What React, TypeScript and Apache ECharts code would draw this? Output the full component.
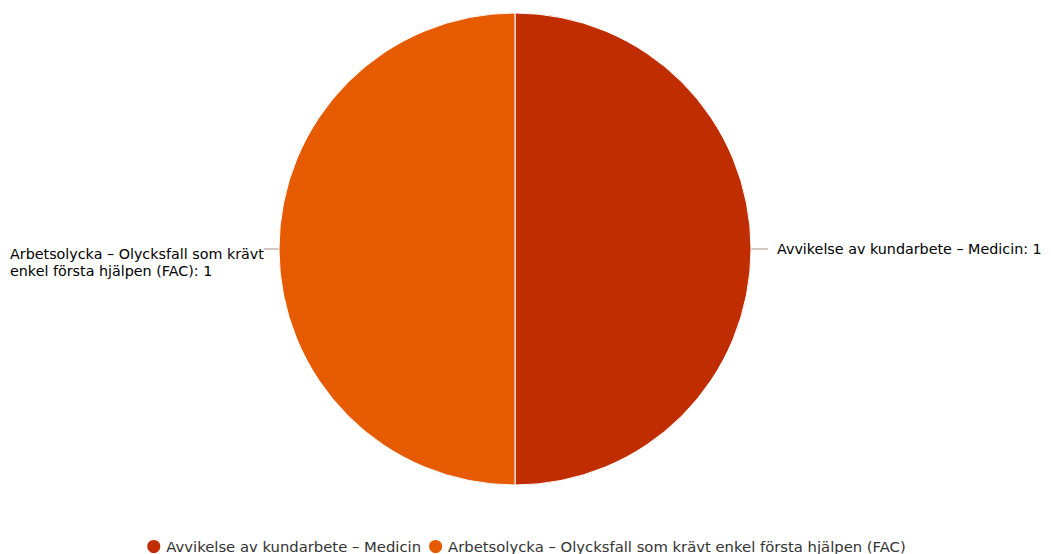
import React, { useEffect, useRef } from "react";
import * as echarts from "echarts";

const categories = [
  "Avvikelse av kundarbete – Medicin",
  "Arbetsolycka – Olycksfall som krävt enkel första hjälpen (FAC)",
];
const values = [1, 1];
const colors = ["#c02d00", "#e65a00"];

// wrap a label into lines of at most maxChars characters at word boundaries
function wrap(text: string, maxChars: number): string[] {
  const words = text.split(" ");
  const lines: string[] = [];
  let cur = "";
  for (const w of words) {
    const next = cur ? cur + " " + w : w;
    if (next.length > maxChars && cur) {
      lines.push(cur);
      cur = w;
    } else cur = next;
  }
  if (cur) lines.push(cur);
  return lines;
}

export default function App() {
  const ref = useRef<HTMLDivElement>(null);
  useEffect(() => {
    const chart = echarts.init(ref.current!, null, { renderer: "svg" });
    const font = "'Lucida Grande', 'DejaVu Sans', sans-serif";
    chart.setOption({
      animation: false,
      backgroundColor: "#ffffff",
      legend: {
        top: 533,
        left: "center",
        icon: "circle",
        itemWidth: 15,
        itemHeight: 15,
        itemGap: 6,
        textStyle: { color: "#333333", fontSize: 14.8, fontFamily: font },
        data: categories,
      },
      series: [
        {
          type: "pie",
          center: [515, 249],
          radius: 236,
          startAngle: 90,
          clockwise: true,
          itemStyle: { borderColor: "#ffffff", borderWidth: 1 },
          label: {
            color: "#000000",
            fontSize: 14.3,
            fontFamily: font,
            lineHeight: 17,
            overflow: "none",
            distanceToLabelLine: 9,
          },
          labelLine: { length: 17, length2: 0, lineStyle: { color: "#a89088", width: 1 } },
          emphasis: { disabled: true },
          data: categories.map((name, i) => ({
            name,
            value: values[i],
            itemStyle: { color: colors[i] },
            label:
              i === 1
                ? {
                    alignTo: "edge",
                    edgeDistance: 10,
                    distanceToLabelLine: 0,
                    formatter:
                      "{s| }\n" + wrap(name + ": " + values[i], 36).join("\n"),
                    rich: { s: { lineHeight: 27, fontSize: 10 } },
                  }
                : {
                    alignTo: "none",
                    edgeDistance: 0,
                    formatter: name + ": " + values[i],
                  },
          })),
        },
      ],
    });
    return () => chart.dispose();
  }, []);
  return (
    <div
      ref={ref}
      style={{ position: "fixed", left: 0, top: 0, width: 1051, height: 554 }}
    />
  );
}
